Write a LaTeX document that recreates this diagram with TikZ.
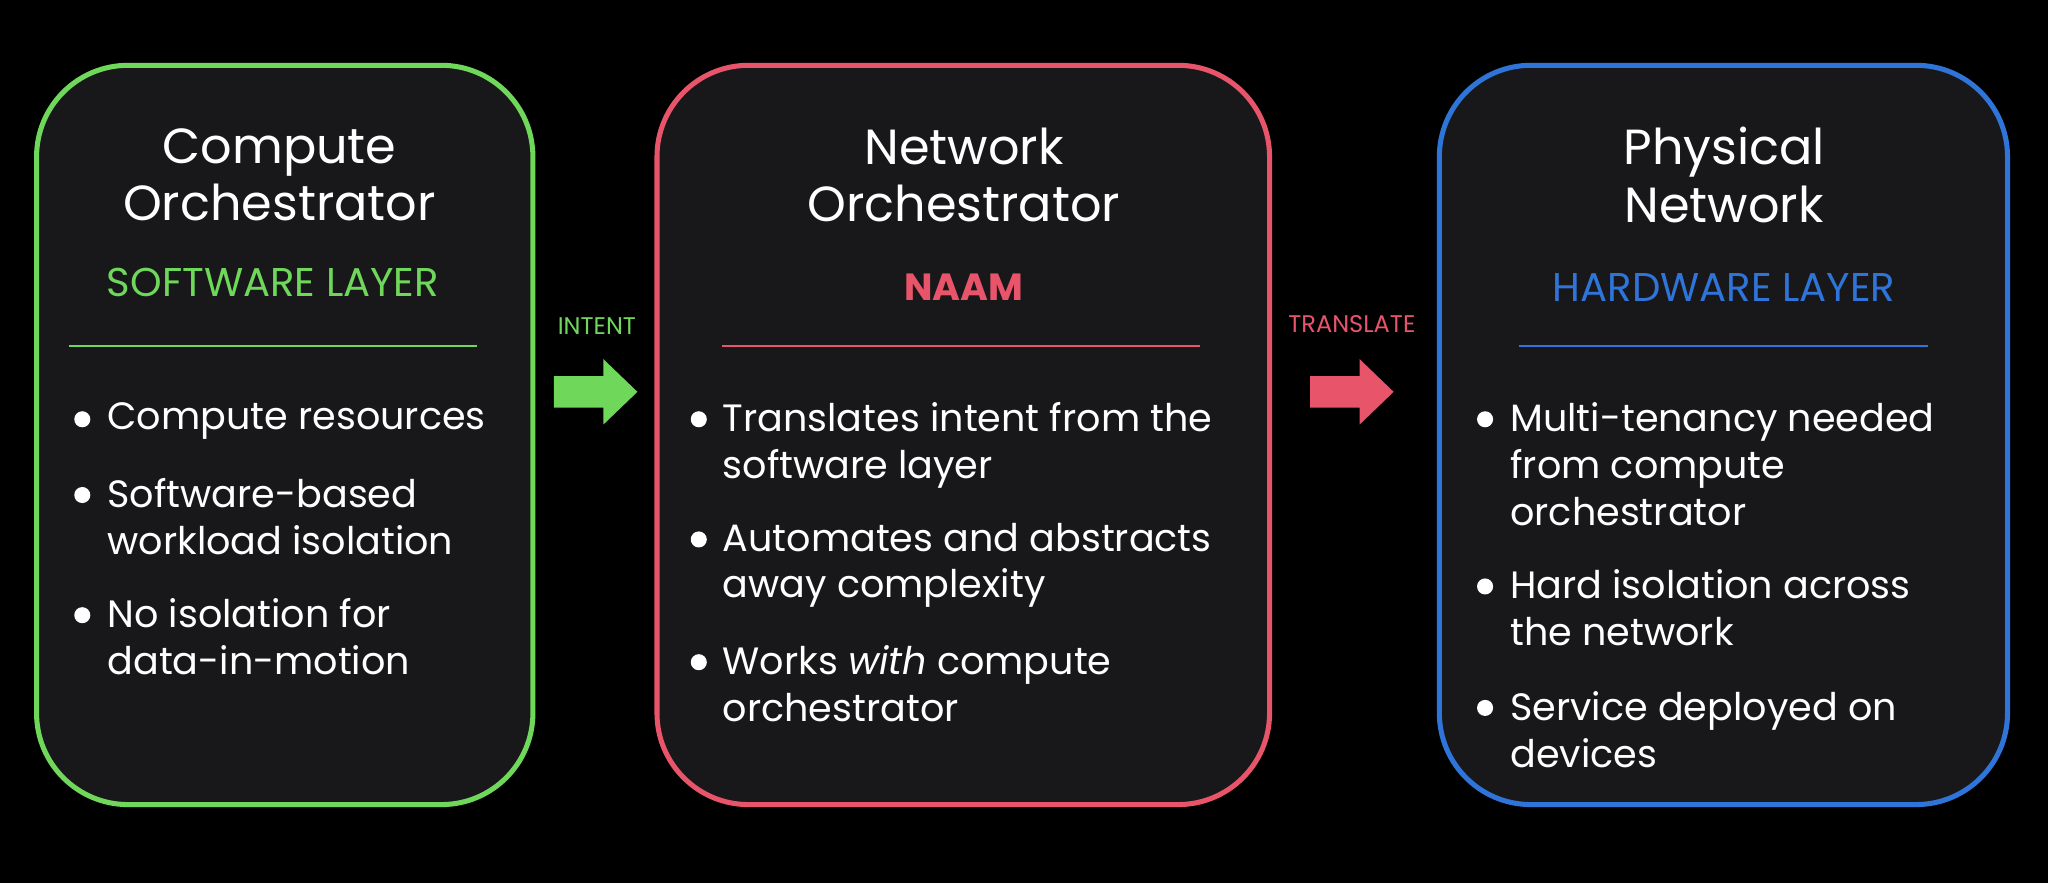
\documentclass[tikz,border=0pt]{standalone}
\usepackage{fontspec}
\setmainfont{Poppins}
\begin{document}
\begin{tikzpicture}[x=0.02cm,y=-0.02cm,
  box/.style={draw=#1,line width=2.2pt,fill=boxbg,rounded corners=1.4cm},
  title/.style={text=white,font=\fontsize{21.5}{25}\selectfont,align=center},
  sub/.style={text=#1,font=\fontsize{17.5}{19}\selectfont},
  bul/.style={text=white,font=\fontsize{16.6}{20.4}\selectfont,anchor=north west,align=left,inner sep=0pt},
  dot/.style={fill=white,circle,inner sep=0pt,minimum size=7pt},
  lab/.style={text=#1,font=\fontsize{10.5}{12}\selectfont}]
\definecolor{boxbg}{HTML}{18181A}
\definecolor{cg}{HTML}{6FD85A}
\definecolor{cr}{HTML}{E8546A}
\definecolor{cb}{HTML}{2F74D9}
\fill[black] (0,0) rectangle (1568,676);
\useasboundingbox (0,0) rectangle (1568,676);
% boxes
\draw[box=cg] (28,50) rectangle (408,616);
\draw[box=cr] (503,50) rectangle (972,616);
\draw[box=cb] (1102,50) rectangle (1537,616);
% titles
\node[title] (t1) at (214,134) {Compute\\Orchestrator};
\node[title] (t2) at (738,134) {Network\\Orchestrator};
\node[title] (t3) at (1320,134) {Physical\\Network};
\node[sub=cg] (s1) at (209,216) {SOFTWARE LAYER};
\node[sub=cr,font=\fontsize{16.5}{19}\selectfont\bfseries] (s2) at (738,220) {NAAM};
\node[sub=cb] (s3) at (1320,220) {HARDWARE LAYER};
\draw[cg,line width=1pt] (53,265) -- (365,265);
\draw[cr,line width=1pt] (553,265) -- (919,265);
\draw[cb,line width=1pt] (1163,265) -- (1476,265);
% bullets green
\node[dot] (d11) at (63,321) {};
\node[bul] (b11) at (82,308) {Compute resources};
\node[dot] (d12) at (63,379) {};
\node[bul] (b12) at (82,366) {Software-based\\workload isolation};
\node[dot] (d13) at (63,471) {};
\node[bul] (b13) at (82,458) {No isolation for\\data-in-motion};
% bullets red
\node[dot] (d21) at (535,321) {};
\node[bul] (b21) at (553,308) {Translates intent from the\\software layer};
\node[dot] (d22) at (535,413) {};
\node[bul] (b22) at (553,400) {Automates and abstracts\\away complexity};
\node[dot] (d23) at (535,507) {};
\node[bul] (b23) at (553,494) {Works \emph{with} compute\\orchestrator};
% bullets blue
\node[dot] (d31) at (1137,321) {};
\node[bul] (b31) at (1156,308) {Multi-tenancy needed\\from compute\\orchestrator};
\node[dot] (d32) at (1137,449) {};
\node[bul] (b32) at (1156,436) {Hard isolation across\\the network};
\node[dot] (d33) at (1137,542) {};
\node[bul] (b33) at (1156,529) {Service deployed on\\devices};
% arrows
\fill[cg] (424,288) -- (462,288) -- (462,275) -- (488,300) -- (462,325) -- (462,312) -- (424,312) -- cycle;
\fill[cr] (1003,288) -- (1041,288) -- (1041,275) -- (1067,300) -- (1041,325) -- (1041,312) -- (1003,312) -- cycle;
\node[lab=cg] (l1) at (457,250) {INTENT};
\node[lab=cr] (l2) at (1035,248) {TRANSLATE};
\end{tikzpicture}
\end{document}
